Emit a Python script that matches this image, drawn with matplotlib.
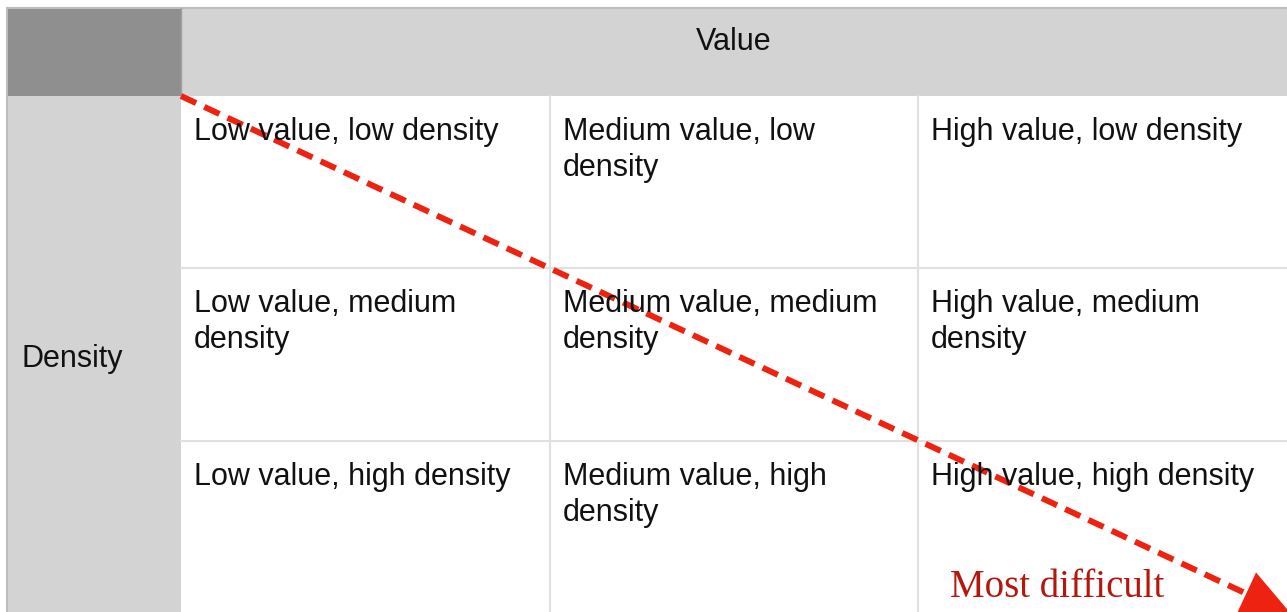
import matplotlib.pyplot as plt
from matplotlib.patches import Rectangle, FancyArrowPatch

# table layout data (pixel grid of the picture)
col_header = 'Value'
row_header = 'Density'
cells = [
    ['Low value, low density', 'Medium value, low\ndensity', 'High value, low density'],
    ['Low value, medium\ndensity', 'Medium value, medium\ndensity', 'High value, medium\ndensity'],
    ['Low value, high density', 'Medium value, high\ndensity', 'High value, high density'],
]
col_edges = [181, 550, 918, 1287]
row_edges = [96, 268, 441, 614]
note = 'Most difficult'

W, H = 1287, 612
fig = plt.figure(figsize=(W / 100, H / 100), dpi=100)
ax = fig.add_axes([0, 0, 1, 1])
ax.set_xlim(0, W)
ax.set_ylim(H, 0)
ax.axis('off')

sans = ['Liberation Sans', 'DejaVu Sans']
fs = 22

# header row and left column
ax.add_patch(Rectangle((7, 8), 174, 88, fc='#8f8f8f', ec='none'))
ax.add_patch(Rectangle((181, 8), W - 181, 88, fc='#d3d3d3', ec='none'))
ax.add_patch(Rectangle((7, 96), 174, H - 96, fc='#d3d3d3', ec='none'))
ax.plot([7, W], [8, 8], color='#bdbdbd', lw=1.5)
ax.plot([7, 7], [8, H], color='#bdbdbd', lw=1.5)
ax.plot([181, 181], [8, 96], color='#a0a0a0', lw=1)

# grid lines
for x in col_edges[1:-1]:
    ax.plot([x, x], [96, H], color='#e0e0e0', lw=1.5)
for y in row_edges[1:-1]:
    ax.plot([181, W], [y, y], color='#e0e0e0', lw=1.5)

ax.text((col_edges[0] + col_edges[-1]) / 2, 42, col_header, ha='center', va='center',
        fontsize=fs, family=sans, color='#111111')
ax.text(21, 359, row_header, ha='left', va='center', fontsize=fs, family=sans, color='#111111')

for i, row in enumerate(cells):
    for j, txt in enumerate(row):
        ax.text(col_edges[j] + 13, row_edges[i] + 21, txt, ha='left', va='top',
                fontsize=fs, family=sans, color='#111111', linespacing=1.24)

# red dashed arrow
x0, y0, x1, y1 = 181, 96, 1292, 615
slope = (y1 - y0) / (x1 - x0)
ax.plot([x0, x1 - 30], [y0, y1 - 30 * slope], color='#ee2211', lw=4.3,
        linestyle=(0, (2.8, 1.5)), solid_capstyle='butt')
ax.add_patch(FancyArrowPatch((x1 - 45, y1 - 45 * slope), (x1, y1),
                             arrowstyle='-|>,head_length=2.6,head_width=1.2',
                             mutation_scale=14, color='#ee2211', lw=0,
                             shrinkA=0, shrinkB=0))

ax.text(950, 597, note, ha='left', va='baseline', fontsize=28,
        family=['Liberation Serif', 'DejaVu Serif'], color='#b5170d')

fig.savefig('out.png', dpi=100)
